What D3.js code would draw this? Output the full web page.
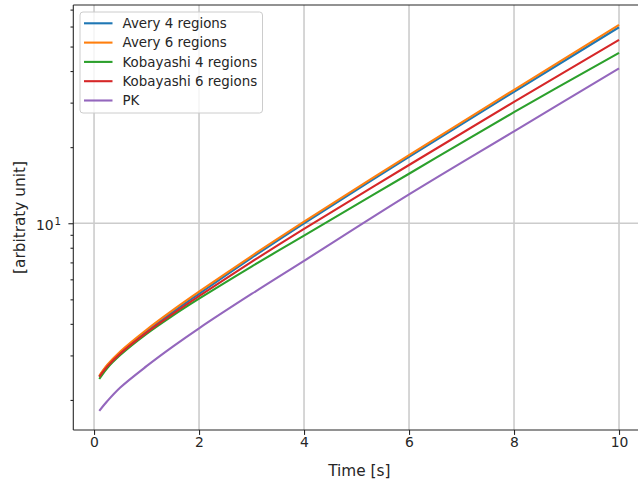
<!DOCTYPE html>
<html>
<head>
<meta charset="utf-8">
<script src="https://cdnjs.cloudflare.com/ajax/libs/d3/7.8.5/d3.min.js"></script>
<style>
  body { margin: 0; background: #fff; }
  text { font-family: "DejaVu Sans", sans-serif; fill: #262626; }
</style>
</head>
<body>
<svg id="graph"></svg>
<script>
// sample times (s)
var times = [0.1, 0.25, 0.5, 1, 1.5, 2, 3, 4, 6, 8, 10];

// series
var avery4 = [2.48, 2.73, 3.08, 3.73, 4.45, 5.26, 7.30, 10.0, 18.3, 33.1, 59.6];
var avery6 = [2.49, 2.75, 3.11, 3.79, 4.53, 5.36, 7.42, 10.15, 18.6, 33.7, 60.9];
var kobayashi4 = [2.42, 2.67, 3.01, 3.65, 4.31, 5.03, 6.74, 8.93, 15.7, 27.5, 47.2];
var kobayashi6 = [2.47, 2.71, 3.05, 3.69, 4.38, 5.15, 7.03, 9.50, 17.0, 30.2, 53.1];
var pk = [1.81, 1.976, 2.24, 2.72, 3.25, 3.84, 5.25, 7.10, 13.0, 23.1, 41.0];

var seriesNames = ["Avery 4 regions", "Avery 6 regions", "Kobayashi 4 regions", "Kobayashi 6 regions", "PK"];
var seriesValues = [avery4, avery6, kobayashi4, kobayashi6, pk];
var colors = ["#1f77b4", "#ff7f0e", "#2ca02c", "#d62728", "#9467bd"];

var xTicks = [0, 2, 4, 6, 8, 10];
var yMajor = [10];
var yMinor = [2, 3, 4, 5, 6, 7, 8, 9, 20, 30, 40, 50, 60, 70];

width = 638;
height = 479;
plot = {left: 73.3, right: 645, top: 5, bottom: 430};

var svg = d3.select("#graph")
    .attr("width", width)
    .attr("height", height);

x = d3.scaleLinear()
    .domain([-0.395, 10.495])
    .range([plot.left, plot.right]);
y = d3.scaleLog()
    .domain([1.521, 73.0])
    .range([plot.bottom, plot.top]);

// grid
grid = svg.append("g");
grid.selectAll("line.gx")
    .data(xTicks)
    .enter().append("line")
        .attr("x1", (d) => x(d)).attr("x2", (d) => x(d))
        .attr("y1", plot.top).attr("y2", plot.bottom)
        .attr("style", "stroke:#cccccc; stroke-width:1.6");
grid.selectAll("line.gy")
    .data(yMajor)
    .enter().append("line")
        .attr("x1", plot.left).attr("x2", plot.right)
        .attr("y1", (d) => y(d)).attr("y2", (d) => y(d))
        .attr("style", "stroke:#cccccc; stroke-width:1.6");

// lines
line = function(vals) {
    return d3.line()
        .x( (d, i) => x(times[i]) )
        .y( (d) => y(d) )
        .curve(d3.curveCatmullRom)(vals);
};
svg.append("g")
    .selectAll("path")
    .data(seriesValues)
    .enter().append("path")
        .attr("d", (d) => line(d))
        .attr("fill", "none")
        .attr("stroke", (d, i) => colors[i])
        .attr("stroke-width", 2.1);

// axes
xAxis = svg.append("g")
    .attr("transform", "translate(0," + plot.bottom + ")")
    .call(d3.axisBottom(x).tickValues(xTicks).tickSize(4.9).tickPadding(2.2).tickFormat(d3.format("d")));
xAxis.selectAll("text").attr("font-size", 13.9).attr("font-family", "DejaVu Sans").attr("fill", "#262626");

yAxisMinor = svg.append("g")
    .attr("transform", "translate(" + plot.left + ",0)")
    .call(d3.axisLeft(y).tickValues(yMinor).tickSize(2.8).tickFormat(""));

yAxis = svg.append("g")
    .attr("transform", "translate(" + plot.left + ",0)")
    .call(d3.axisLeft(y).tickValues(yMajor).tickSize(4.9).tickFormat(""));

svg.selectAll(".domain").remove();
svg.selectAll(".tick line").attr("stroke", "#262626").attr("stroke-width", 1.1);

// 10^1 label
lab = svg.append("text")
    .attr("x", 61)
    .attr("y", y(10) + 6.7)
    .attr("text-anchor", "end")
    .attr("font-size", 13.9);
lab.append("tspan").text("10");
lab.append("tspan").attr("font-size", 10.2).attr("dx", 0.8).attr("dy", -5).text("1");

// spines
svg.append("line")
    .attr("x1", plot.left).attr("x2", plot.left)
    .attr("y1", plot.top).attr("y2", plot.bottom)
    .attr("style", "stroke:#262626; stroke-width:1.1");
svg.append("line")
    .attr("x1", plot.left).attr("x2", plot.right)
    .attr("y1", plot.bottom).attr("y2", plot.bottom)
    .attr("style", "stroke:#262626; stroke-width:1.1");
svg.append("line")
    .attr("x1", plot.left).attr("x2", plot.right)
    .attr("y1", plot.top).attr("y2", plot.top)
    .attr("style", "stroke:#262626; stroke-width:1.1");

// axis labels
svg.append("text")
    .attr("x", 359.3)
    .attr("y", 475.7)
    .attr("text-anchor", "middle")
    .attr("font-size", 15.3)
    .text("Time [s]");
svg.append("text")
    .attr("transform", "translate(24.5," + ((plot.top + plot.bottom) / 2) + ") rotate(-90)")
    .attr("text-anchor", "middle")
    .attr("font-size", 15.3)
    .text("[arbitraty unit]");

// legend
legend = svg.append("g").attr("transform", "translate(80,12)");
legend.append("rect")
    .attr("width", 182.5).attr("height", 101)
    .attr("rx", 3)
    .attr("style", "fill:#fff; fill-opacity:0.8; stroke:#cccccc; stroke-width:1");
items = legend.selectAll("g.item")
    .data(seriesNames)
    .enter().append("g")
        .attr("transform", (d, i) => "translate(0," + (11.3 + i * 19.3) + ")");
items.append("line")
    .attr("x1", 4).attr("x2", 32.5)
    .attr("stroke", (d, i) => colors[i])
    .attr("stroke-width", 2.1);
items.append("text")
    .attr("x", 42.5)
    .attr("dy", "0.35em")
    .attr("font-size", 13.4)
    .text( (d) => d );
</script>
</body>
</html>
